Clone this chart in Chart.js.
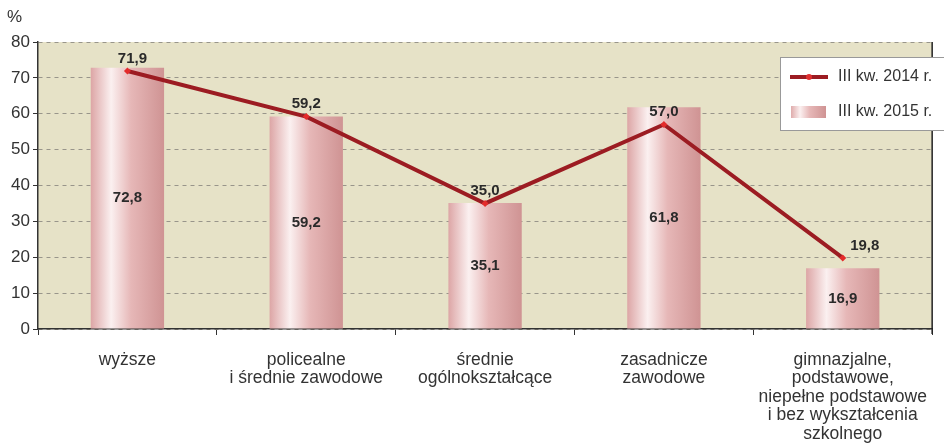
<!DOCTYPE html>
<html>
<head>
<meta charset="utf-8">
<script src="https://cdn.jsdelivr.net/npm/chart.js@4/dist/chart.umd.min.js"></script>
<style>
  html, body { margin: 0; padding: 0; background: #fff; }
  #wrap { position: relative; width: 944px; height: 445px; }
  #unit { position: absolute; left: 7px; top: 7px; font: 17px "Liberation Sans", Arial, sans-serif; color: #333; }
</style>
</head>
<body>
<div id="wrap">
  <canvas id="eduChart" width="944" height="445"></canvas>
  <div id="unit">%</div>
</div>
<script>
// dane
const categories = [
    ['wyższe'],
    ['policealne', 'i średnie zawodowe'],
    ['średnie', 'ogólnokształcące'],
    ['zasadnicze', 'zawodowe'],
    ['gimnazjalne,', 'podstawowe,', 'niepełne podstawowe', 'i bez wykształcenia', 'szkolnego']
];
const values2014 = [71.9, 59.2, 35.0, 57.0, 19.8];
const values2015 = [72.8, 59.2, 35.1, 61.8, 16.9];
const yTicks = [0, 10, 20, 30, 40, 50, 60, 70, 80];
const seriesNames = ['III kw. 2014 r.', 'III kw. 2015 r.'];

const fmt = v => v.toFixed(1).replace('.', ',');
const FONT = '"Liberation Sans", Arial, sans-serif';

function cylinderGradient(c, x0, x1) {
    const g = c.createLinearGradient(x0, 0, x1, 0);
    g.addColorStop(0, '#dca4a4');
    g.addColorStop(0.28, '#fbf0f0');
    g.addColorStop(0.55, '#e6b7b7');
    g.addColorStop(1, '#cf9393');
    return g;
}

// gradient for bars (cylinder look)
function barGradient(context) {
    const chart = context.chart;
    const xs = chart.scales.x;
    if (!chart.chartArea || !xs) return '#e3b0b0';
    const el = chart.getDatasetMeta(context.datasetIndex).data[context.dataIndex];
    let cx, w;
    if (el && el.width) { cx = el.x; w = el.width; }
    else { cx = xs.getPixelForValue(context.dataIndex); w = 74; }
    return cylinderGradient(chart.ctx, cx - w / 2, cx + w / 2);
}

const decor = {
    id: 'decor',
    beforeDraw(chart) {
        const { ctx, chartArea: a } = chart;
        ctx.save();
        ctx.fillStyle = '#e6e2c7';
        ctx.fillRect(a.left, a.top, a.right - a.left, a.bottom - a.top);
        ctx.restore();
    },
    afterDatasetsDraw(chart) {
        const { ctx, chartArea: a } = chart;
        ctx.save();
        // prawa krawędź
        ctx.strokeStyle = '#222';
        ctx.lineWidth = 1.5;
        ctx.beginPath();
        ctx.moveTo(a.right, a.top);
        ctx.lineTo(a.right, a.bottom + 5);
        ctx.stroke();

        ctx.textAlign = 'center';
        ctx.font = 'bold 15px ' + FONT;
        ctx.fillStyle = '#2a2a2a';
        // etykiety słupków
        chart.getDatasetMeta(1).data.forEach((el, i) => {
            ctx.textBaseline = 'middle';
            ctx.fillText(fmt(values2015[i]), el.x, (el.y + el.base) / 2);
        });
        // etykiety linii
        chart.getDatasetMeta(0).data.forEach((el, i) => {
            ctx.textBaseline = 'bottom';
            const dx = i === 4 ? 22 : (i === 0 ? 5 : 0);
            ctx.fillText(fmt(values2014[i]), el.x + dx, el.y - 5);
        });

        // legenda
        const lx = 780, ly = 57, lw = 170, lh = 73;
        ctx.fillStyle = '#fff';
        ctx.fillRect(lx, ly, lw, lh);
        ctx.strokeStyle = '#999';
        ctx.lineWidth = 1;
        ctx.strokeRect(lx + 0.5, ly + 0.5, lw, lh);
        ctx.strokeStyle = '#9c1c22';
        ctx.lineWidth = 4;
        ctx.beginPath();
        ctx.moveTo(790, 77);
        ctx.lineTo(828, 77);
        ctx.stroke();
        ctx.fillStyle = '#e03030';
        ctx.beginPath();
        ctx.arc(809, 77, 3, 0, Math.PI * 2);
        ctx.fill();
        ctx.fillStyle = cylinderGradient(ctx, 790, 826);
        ctx.fillRect(791, 106, 35, 12);
        ctx.fillStyle = '#333';
        ctx.font = '16px ' + FONT;
        ctx.textAlign = 'left';
        ctx.textBaseline = 'middle';
        ctx.fillText(seriesNames[0], 838, 77);
        ctx.fillText(seriesNames[1], 838, 112);
        ctx.restore();
    }
};

const ctx = document.getElementById('eduChart').getContext('2d');
const eduChart = new Chart(ctx, {
    type: 'bar',
    data: {
        labels: categories,
        datasets: [
            {
                type: 'line',
                label: seriesNames[0],
                data: values2014,
                borderColor: '#9c1c22',
                borderWidth: 4,
                pointRadius: 3.5,
                pointStyle: 'rectRot',
                pointBackgroundColor: '#e32b2b',
                pointBorderWidth: 0,
                tension: 0,
                order: 0
            },
            {
                label: seriesNames[1],
                data: values2015,
                backgroundColor: barGradient,
                borderWidth: 0,
                categoryPercentage: 1,
                barPercentage: 0.41,
                order: 1
            }
        ]
    },
    options: {
        responsive: false,
        animation: false,
        layout: { padding: { top: 42, right: 11, left: 0, bottom: 0 } },
        plugins: {
            legend: { display: false },
            tooltip: { enabled: false }
        },
        scales: {
            x: {
                grid: { drawOnChartArea: false, drawTicks: true, tickLength: 6, color: '#333', offset: true },
                border: { color: '#333', width: 1.5 },
                ticks: {
                    color: '#333',
                    font: { family: FONT, size: 17.5, lineHeight: 1.05 },
                    padding: 16,
                    maxRotation: 0,
                    autoSkip: false
                },
                afterFit(scale) { scale.height = 116; }
            },
            y: {
                min: 0,
                max: 80,
                afterBuildTicks(scale) { scale.ticks = yTicks.map(v => ({ value: v })); },
                grid: {
                    color: '#98958a',
                    lineWidth: 1,
                    drawTicks: true,
                    tickLength: 5,
                    tickColor: '#333',
                    tickBorderDash: []
                },
                border: { color: '#333', width: 1.5, dash: [4, 4] },
                ticks: {
                    color: '#333',
                    font: { family: FONT, size: 17 },
                    padding: 3
                },
                afterFit(scale) { scale.width = 38; }
            }
        }
    },
    plugins: [decor]
});
</script>
</body>
</html>
